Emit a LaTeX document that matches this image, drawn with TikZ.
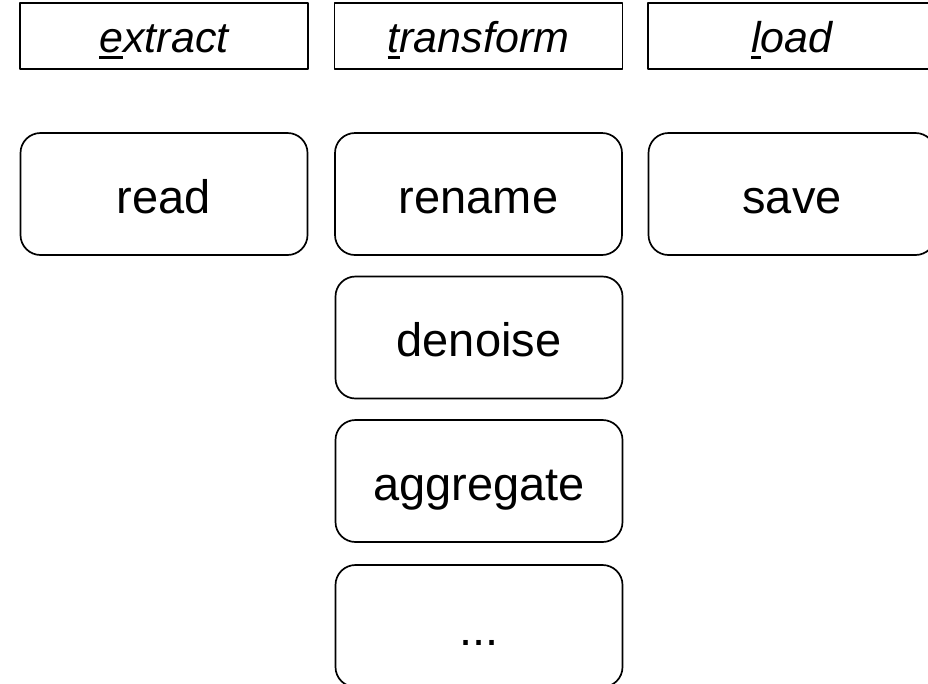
\documentclass[tikz,border=0pt]{standalone}
\usepackage{fontspec}
\setmainfont{Liberation Sans}
% underline only the first letter of a word
\newcommand{\ulfirst}[2]{\setbox0\hbox{#1}\rlap{\rule[-0.16em]{\wd0}{0.07em}}#1#2}
\begin{document}
\begin{tikzpicture}[line join=bevel,
  phase/.style={draw,line width=0.85pt,minimum width=144bp,minimum height=33bp,inner sep=0pt,
    text height=16bp,text depth=0bp,font=\fontsize{21.5bp}{24bp}\selectfont\itshape},
  task/.style={draw,rounded corners=10bp,line width=0.85pt,minimum width=143.5bp,minimum height=61bp,inner sep=0pt,
    text height=19bp,text depth=0bp,font=\fontsize{23.5bp}{26bp}\selectfont},]
\useasboundingbox (0bp,0bp) rectangle (464bp,-342bp);
\clip (0bp,0bp) rectangle (464bp,-342bp);
%%
\node (node_extract) at (82bp,-18bp) [phase] {\ulfirst{e}{xtract}};
  \node (node_transform) at (239.25bp,-18bp) [phase] {\ulfirst{t}{ransform}};
  \node (node_load) at (396bp,-18bp) [phase] {\ulfirst{l}{oad}};
%
\node (node_read) at (82bp,-97bp) [task] {read};
  \node (node_rename) at (239.25bp,-97bp) [task] {rename};
  \node (node_denoise) at (239.5bp,-168.75bp) [task] {denoise};
  \node (node_aggregate) at (239.5bp,-240.5bp) [task] {aggregate};
  \node (node_more) at (239.5bp,-313bp) [task] {...};
  \node (node_save) at (396bp,-97bp) [task] {save};
%
\end{tikzpicture}
\end{document}
